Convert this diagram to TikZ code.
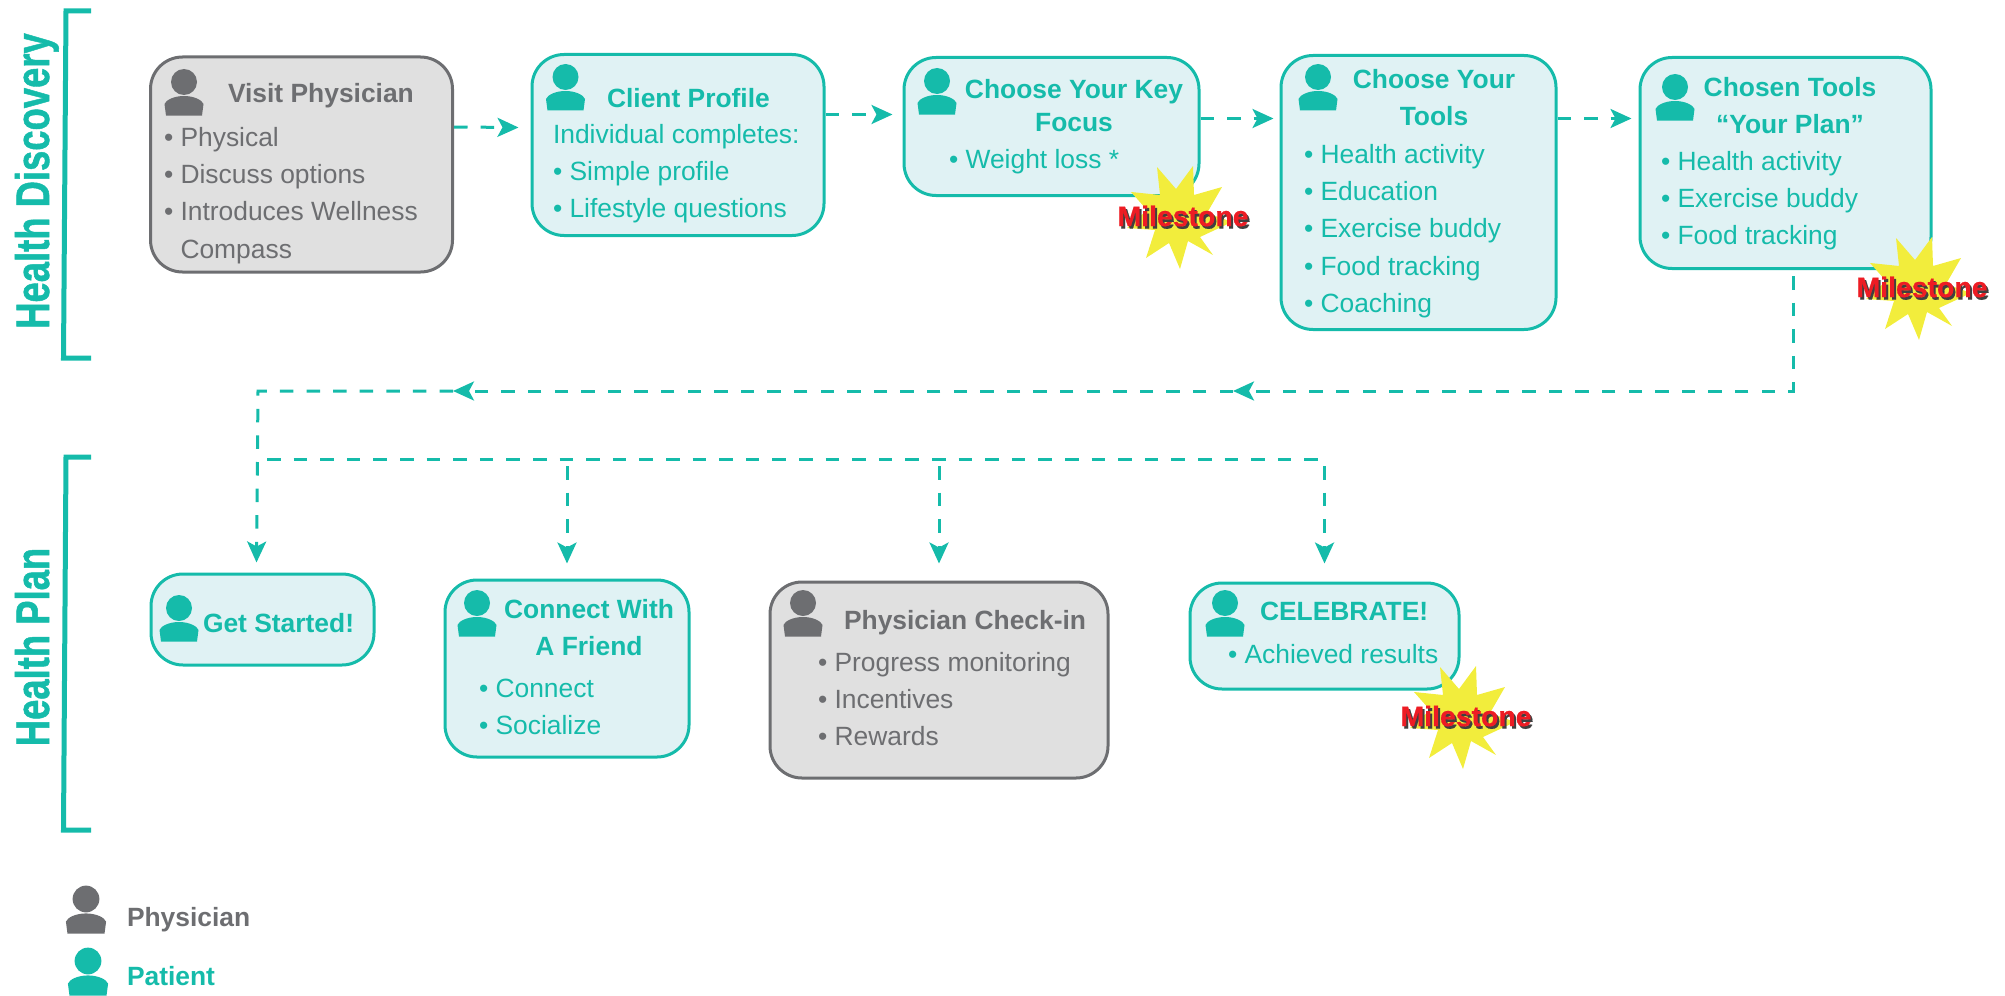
\documentclass[tikz,border=0pt]{standalone}
\usepackage{fontspec}
\usepackage{graphicx}
\setmainfont{Liberation Sans}
\newfontfamily\sidefont[BoldFont={* Bold}, BoldFeatures={FakeBold=1.2}]{Liberation Sans}
\newfontfamily\milefont[BoldFont={* Bold}, BoldFeatures={FakeBold=.5}]{Liberation Sans}
\usetikzlibrary{arrows.meta,positioning}

\definecolor{pat}{HTML}{15BBAA}
\definecolor{patfill}{HTML}{E0F2F4}
\definecolor{doc}{HTML}{6D6E71}
\definecolor{docfill}{HTML}{E0E0E0}
\definecolor{burst}{HTML}{F2ED3C}
\definecolor{milered}{HTML}{ED1C24}
\definecolor{mileshade}{HTML}{404040}

\begin{document}
\begin{tikzpicture}[
	x = .5pt, y = -.5pt, % one unit is one pixel of the reference
	> = {Stealth[length=10.5pt, width=9.5pt, inset=2.5pt]}, % arrow head style
	Box/.style 2 args={rectangle, rounded corners=16pt, line width=1.5pt, inner sep=0pt, minimum width=#1pt, minimum height=#2pt},
	PatBox/.style 2 args={Box={#1}{#2}, draw=pat, fill=patfill},
	DocBox/.style 2 args={Box={#1}{#2}, draw=doc, fill=docfill},
	Head/.style={inner sep=0pt, outer sep=0pt, anchor=base west, text=#1, font=\fontsize{13.2}{18.7}\selectfont\bfseries},
	HeadTwo/.style={inner sep=0pt, outer sep=0pt, anchor=north, align=center, text=pat, font=\fontsize{13.2}{18.7}\selectfont\bfseries},
	Items/.style={inner sep=0pt, outer sep=0pt, anchor=north west, align=left, text=#1, font=\fontsize{13.2}{18.7}\selectfont},
	Side/.style={inner sep=0pt, outer sep=0pt, anchor=base, rotate=90, text=pat, font=\fontsize{23.5}{24}\sidefont\bfseries},
	Bracket/.style={draw=pat, line width=2.5pt},
	Flow/.style={->, draw=pat, line width=1.5pt, dash pattern=on 6.75pt off 6.55pt},
	Mile/.style={inner sep=0pt, outer sep=0pt, font=\fontsize{14.2}{14}\milefont\bfseries},
	Person/.pic={
		\fill[#1] (0,0) circle [radius=13];
		\fill[#1] (-18,33.5) -- (18,33.5) -- (19.5,22) .. controls (18,18) and (10,14) .. (0,14)
			.. controls (-10,14) and (-18,18) .. (-19.5,22) -- cycle;
	},
	Burst/.pic={
		\fill[burst] (-49,-26) -- (-20,-23) -- (-23,-51) -- (-4,-29) -- (13,-52) -- (14,-23) -- (42,-31) -- (27,-5) -- (52,4)
			-- (20,19) -- (33,37) -- (8,23) -- (0,51) -- (-11,25) -- (-34,40) -- (-25,12) -- (-53,10) -- (-33,-8) -- cycle;
		\node[Mile, text=mileshade] (-back) at (5,0.5) {Milestone};
		\node[Mile, text=milered] (-front) at (3,-2) {Milestone};
	},
	]
	\useasboundingbox (0,0) rectangle (2005,995);

	% Side labels
	\draw[Bracket] (91,11) -- (66,11) -- (63.5,358) -- (91,358);
	\draw[Bracket] (91,457) -- (66,457) -- (63.5,830) -- (91,830);
	\node[Side] (discovery) at (49,181) {\scalebox{.775}[1]{Health Discovery}};
	\node[Side] (plan) at (49,647) {\scalebox{.775}[1]{Health Plan}};

	% Discovery boxes
	\node[DocBox={151}{107.5}] (visit) at (301.5,164.5) {};
	\node[PatBox={146}{90.5}] (client) [right = 38.25pt of visit, yshift=9.75pt] {};
	\node[PatBox={147.5}{69}] (keyfocus) [right = 38.5pt of client, yshift=9.25pt] {};
	\node[PatBox={137.5}{137}] (tools) [right = 39.5pt of keyfocus, yshift=-33pt] {};
	\node[PatBox={145.5}{105.5}] (chosen) [right = 40.5pt of tools, yshift=14.75pt] {};

	% Plan boxes
	\node[PatBox={111.5}{45.5}] (started) at (262.5,619.5) {};
	\node[PatBox={122}{88.5}] (connect) [right = 34pt of started, yshift=-24.5pt] {};
	\node[DocBox={169}{98}] (checkin) [right = 39pt of connect, yshift=-5.75pt] {};
	\node[PatBox={134.5}{53}] (celebrate) [right = 39.5pt of checkin, yshift=22pt] {};

	% Box contents
	\pic (ivisit) at (184,82) {Person=doc};
	\node[Head=doc] (tvisit) at (228,103) {Visit Physician};
	\node[Items=doc] (lvisit) at (164,127) {• Physical\\• Discuss options\\• Introduces Wellness\\\hspace{8.25pt}Compass};

	\pic (iclient) at (565.5,77) {Person=pat};
	\node[Head=pat] (tclient) at (607,107) {Client Profile};
	\node[Items=pat] (lclient) at (553,124) {Individual completes:\\• Simple profile\\• Lifestyle questions};

	\pic (ikey) at (937,81) {Person=pat};
	\node[HeadTwo, font=\fontsize{13.2}{16.5}\selectfont\bfseries] (tkey) at (1074,79) {Choose Your Key\\Focus};
	\node[Items=pat] (lkey) at (949,149) {• Weight loss *};

	\pic (itools) at (1318,77) {Person=pat};
	\node[HeadTwo] (ttools) at (1434,69) {Choose Your\\Tools};
	\node[Items=pat] (ltools) at (1304,144) {• Health activity\\• Education\\• Exercise buddy\\• Food tracking\\• Coaching};

	\pic (ichosen) at (1675,87) {Person=pat};
	\node[HeadTwo] (tchosen) at (1790,77) {Chosen Tools\\“Your Plan”};
	\node[Items=pat] (lchosen) at (1661,151) {• Health activity\\• Exercise buddy\\• Food tracking};

	\pic (istarted) at (179,608) {Person=pat};
	\node[Head=pat] (tstarted) at (203,632) {Get Started!};

	\pic (iconnect) at (477,603) {Person=pat};
	\node[HeadTwo] (tconnect) at (589,599) {Connect With\\A Friend};
	\node[Items=pat] (lconnect) at (479,679) {• Connect\\• Socialize};

	\pic (icheckin) at (803,603) {Person=doc};
	\node[Head=doc] (tcheckin) at (844,629) {Physician Check-in};
	\node[Items=doc] (lcheckin) at (818,652) {• Progress monitoring\\• Incentives\\• Rewards};

	\pic (icelebrate) at (1225,603) {Person=pat};
	\node[Head=pat] (tcelebrate) at (1260,620) {CELEBRATE!};
	\node[Items=pat] (lcelebrate) at (1228,644) {• Achieved results};

	% Milestones
	\pic (mkey) at (1180,218) {Burst};
	\pic (mchosen) at (1919,289) {Burst};
	\pic (mcelebrate) at (1463,718) {Burst};

	% Legend
	\pic[scale=1.03] (idoc) at (86,899) {Person=doc};
	\node[Head=doc] (tdoc) at (127,926) {Physician};
	\pic[scale=1.03] (ipat) at (88,961) {Person=pat};
	\node[Head=pat] (tpat) at (127,985) {Patient};

	% Paths connecting boxes
	\draw[Flow] ([yshift=18.75pt]visit.east) -- ([xshift=-6pt,yshift=8.75pt]client.west);
	\draw[Flow] ([yshift=15.25pt]client.east) -- ([xshift=-5pt,yshift=6pt]keyfocus.west);
	\draw[Flow] ([yshift=4pt]keyfocus.east) -- ([xshift=-3pt,yshift=37pt]tools.west);
	\draw[Flow] ([yshift=37pt]tools.east) -- ([xshift=-3.5pt,yshift=22.25pt]chosen.west);

	% Return line and the row below it
	\coordinate (backone) at (1233,391);
	\coordinate (backtwo) at (453,391);
	\coordinate (turn) at (258,391);
	\coordinate (bus) at (267,459);
	\draw[Flow] ([xshift=3.75pt,yshift=-3pt]chosen.south) |- (backone);
	\draw[Flow] (backone) -- (backtwo);
	\draw[Flow] (backtwo) -- (turn) -- ([xshift=-3pt,yshift=5pt]started.north);
	\draw[Flow, -] (bus) -- (celebrate.north |- bus);
	\draw[Flow] ([yshift=-3.5pt]connect.north |- bus) -- ([yshift=7.5pt]connect.north);
	\draw[Flow] ([yshift=-3.5pt]checkin.north |- bus) -- ([yshift=8.5pt]checkin.north);
	\draw[Flow] ([yshift=-3.5pt]celebrate.north |- bus) -- ([yshift=9pt]celebrate.north);

\end{tikzpicture}
\end{document}
